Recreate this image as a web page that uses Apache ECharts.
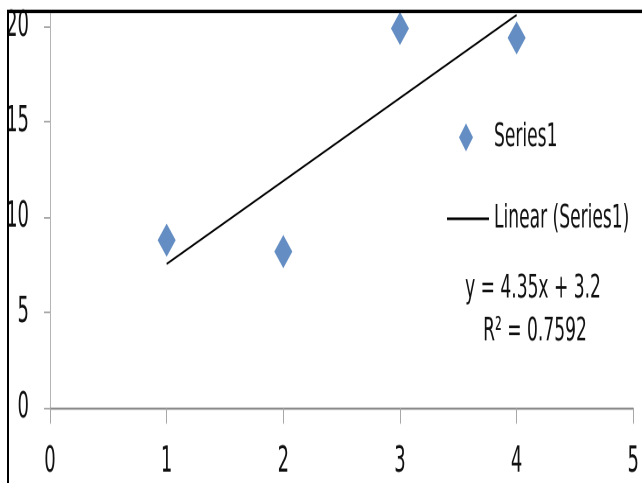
<!DOCTYPE html>
<html>
<head>
<meta charset="utf-8">
<script src="https://cdn.jsdelivr.net/npm/echarts@6/dist/echarts.min.js"></script>
<style>
  html, body { margin: 0; padding: 0; background: #fff; width: 642px; height: 483px; }
  #c { width: 642px; height: 276px; transform: scaleY(1.75); transform-origin: 0 0; }
</style>
</head>
<body>
<div id="c"></div>
<script>
// ---- data ----
const xValues = [1, 2, 3, 4];
const yValues = [8.8, 8.2, 19.9, 19.4];
const xTickLabels = [0, 1, 2, 3, 4, 5];
const yTickLabels = [0, 5, 10, 15, 20];
const seriesName = 'Series1';
const trendName = 'Linear (Series1)';
const trendSlope = 4.35;
const trendIntercept = 3.2;
const trendRange = [1, 4];
const rSquaredText = '0.7592';

// ---- build ----
const FONT = "'Liberation Sans Narrow', 'Arial Narrow', 'DejaVu Sans Condensed', sans-serif";
const points = xValues.map((x, i) => [x, yValues[i]]);
const trendPoints = trendRange.map(x => [x, trendSlope * x + trendIntercept]);

const chart = echarts.init(document.getElementById('c'), null, { renderer: 'canvas', devicePixelRatio: 2 });
chart.setOption({
  animation: false,
  backgroundColor: '#ffffff',
  grid: { left: 50, right: 5, top: 6.4, bottom: 42.9, containLabel: false },
  xAxis: {
    type: 'value', min: xTickLabels[0], max: xTickLabels[xTickLabels.length - 1], interval: 1,
    axisLine: { show: true, lineStyle: { color: '#8a8a8a', width: 1.2 } },
    axisTick: { show: true, length: 9, lineStyle: { color: '#a8a8a8', width: 1 } },
    axisLabel: { margin: 21, fontSize: 20, fontFamily: FONT, color: '#111' },
    splitLine: { show: false }
  },
  yAxis: {
    type: 'value', min: 0, max: 20.8,
    axisLine: { show: true, onZero: false, lineStyle: { color: '#b4b4b4', width: 1 } },
    axisTick: { show: true, length: 6, customValues: yTickLabels, lineStyle: { color: '#a8a8a8', width: 1 } },
    axisLabel: { margin: 21, fontSize: 20, fontFamily: FONT, color: '#111', customValues: yTickLabels },
    splitLine: { show: false }
  },
  legend: [
    {
      data: [{ name: seriesName, icon: 'diamond' }],
      left: 459, top: 69, padding: 0,
      itemWidth: 14, itemHeight: 16,
      textStyle: { fontSize: 19, fontFamily: FONT, color: '#111', padding: [0, 0, 0, 16] }
    },
    {
      data: [{ name: trendName, icon: 'rect', itemStyle: { color: '#000' } }],
      left: 447, top: 115.5, padding: 0,
      itemWidth: 42, itemHeight: 1.6,
      textStyle: { fontSize: 19, fontFamily: FONT, color: '#111' }
    }
  ],
  series: [
    {
      name: seriesName, type: 'scatter', data: points,
      symbol: 'diamond', symbolSize: [18, 19],
      itemStyle: { color: '#3d72b4' }, z: 3
    },
    {
      name: trendName, type: 'line', data: trendPoints,
      symbol: 'none', showSymbol: false,
      lineStyle: { color: '#000', width: 1.2 },
      itemStyle: { color: '#000' }, z: 2
    }
  ],
  graphic: [
    {
      type: 'rect', shape: { x: 8, y: 6.5, width: 700, height: 400 },
      style: { fill: 'none', stroke: '#000', lineWidth: 2 }, silent: true, z: 10
    },
    {
      type: 'text', x: 533, y: 165,
      style: { text: 'y = ' + trendSlope + 'x + ' + trendIntercept, fontSize: 19, fontFamily: FONT, fill: '#111', textAlign: 'center', textVerticalAlign: 'middle' }
    },
    {
      type: 'text', x: 535, y: 189.5,
      style: { text: 'R² = ' + rSquaredText, fontSize: 19, fontFamily: FONT, fill: '#111', textAlign: 'center', textVerticalAlign: 'middle' }
    }
  ]
});
</script>
</body>
</html>
